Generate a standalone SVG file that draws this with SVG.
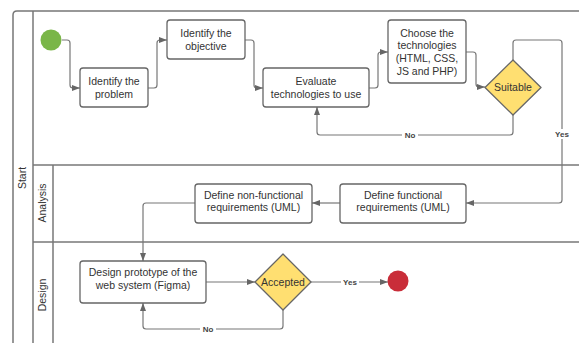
<svg xmlns="http://www.w3.org/2000/svg" width="579" height="343" viewBox="0 0 579 343">
<defs>
<marker id="arr" viewBox="0 0 8 6" refX="8" refY="3" markerWidth="8" markerHeight="6" markerUnits="userSpaceOnUse" orient="auto">
<path d="M0,0 L8,3 L0,6 z" fill="#666"/>
</marker>
<style>
.lane{fill:none;stroke:#777;stroke-width:1.5}
.box{fill:#fff;stroke:#666;stroke-width:1.3}
.dia{fill:#ffdf71;stroke:#666;stroke-width:1.3}
.t{font-family:"Liberation Sans",Arial,sans-serif;font-size:10.5px;fill:#333;text-anchor:middle}
.lbl{font-family:"Liberation Sans",Arial,sans-serif;font-size:8px;font-weight:bold;fill:#444;text-anchor:middle}
.c{fill:none;stroke:#777;stroke-width:1.2}
</style>
</defs>
<rect width="579" height="343" fill="#fff"/>
<g id="lanes">
<path class="lane" d="M13,343 V15 Q13,11 17,11 H579"/>
<path class="lane" d="M33,11 V343"/>
<path class="lane" d="M33,165 H579"/>
<path class="lane" d="M53,165 V343"/>
<path class="lane" d="M33,242 H579"/>
<text class="t" transform="translate(26,178) rotate(-90)">Start</text>
<text class="t" transform="translate(46,203) rotate(-90)">Analysis</text>
<text class="t" transform="translate(46,295) rotate(-90)">Design</text>
</g>
<g id="connectors">
<path class="c" marker-end="url(#arr)" d="M62,40 H67 Q70,40 70,43 V85 Q70,88 73,88 H80"/>
<path class="c" marker-end="url(#arr)" d="M148,88 H154 Q157,88 157,85 V43 Q157,40 160,40 H167"/>
<path class="c" marker-end="url(#arr)" d="M245,40 H251 Q254,40 254,43 V85 Q254,88 257,88 H263"/>
<path class="c" marker-end="url(#arr)" d="M369,88 H375 Q378,88 378,85 V55 Q378,52 381,52 H388"/>
<path class="c" marker-end="url(#arr)" d="M466,52 H473 Q476,52 476,55 V84 Q476,87 479,87 H485"/>
<path class="c" marker-end="url(#arr)" d="M513,115 V132 Q513,135 510,135 H320 Q317,135 317,132 V107"/>
<path class="c" marker-end="url(#arr)" d="M513,60 V43 Q513,40 516,40 H559 Q562,40 562,43 V200 Q562,203 559,203 H466"/>
<path class="c" marker-end="url(#arr)" d="M340,203 H312"/>
<path class="c" marker-end="url(#arr)" d="M195,203 H146 Q143,203 143,206 V261"/>
<path class="c" marker-end="url(#arr)" d="M206,282 H255"/>
<path class="c" marker-end="url(#arr)" d="M283,310 V326 Q283,329 280,329 H146 Q143,329 143,326 V303"/>
<path class="c" marker-end="url(#arr)" d="M311,282 H388"/>
<rect x="402" y="130" width="16" height="10" fill="#fff"/>
<text class="lbl" x="410" y="138">No</text>
<rect x="553" y="129" width="18" height="10" fill="#fff"/>
<text class="lbl" x="562" y="137">Yes</text>
<rect x="200" y="324" width="16" height="10" fill="#fff"/>
<text class="lbl" x="208" y="332">No</text>
<rect x="341" y="277" width="18" height="10" fill="#fff"/>
<text class="lbl" x="350" y="285">Yes</text>
</g>
<g id="start"><circle cx="51" cy="40" r="10.5" fill="#7ab648"/></g>
<g id="problem">
<rect class="box" x="80" y="68" width="68" height="39" rx="3"/>
<text class="t" x="114" y="85">Identify the</text>
<text class="t" x="114" y="97.5">problem</text>
</g>
<g id="objective">
<rect class="box" x="167" y="20" width="78" height="39" rx="3"/>
<text class="t" x="206" y="37">Identify the</text>
<text class="t" x="206" y="49.5">objective</text>
</g>
<g id="evaluate">
<rect class="box" x="263" y="68" width="106" height="39" rx="3"/>
<text class="t" x="316" y="85">Evaluate</text>
<text class="t" x="316" y="97.5">technologies to use</text>
</g>
<g id="choose">
<rect class="box" x="388" y="20" width="78" height="63" rx="3"/>
<text class="t" x="427" y="36.7">Choose the</text>
<text class="t" x="427" y="49.4">technologies</text>
<text class="t" x="427" y="62">(HTML, CSS,</text>
<text class="t" x="427" y="74.7">JS and PHP)</text>
</g>
<g id="suitable">
<path class="dia" d="M513,60 L541,87.5 L513,115 L485,87.5 Z" stroke-linejoin="round"/>
<text class="t" x="513" y="91.2">Suitable</text>
</g>
<g id="functional">
<rect class="box" x="340" y="184" width="126" height="39" rx="3"/>
<text class="t" x="403" y="198.7">Define functional</text>
<text class="t" x="403" y="211.4">requirements (UML)</text>
</g>
<g id="nonfunctional">
<rect class="box" x="195" y="184" width="117" height="39" rx="3"/>
<text class="t" x="253.5" y="198.7">Define non-functional</text>
<text class="t" x="253.5" y="211.4">requirements (UML)</text>
</g>
<g id="design">
<rect class="box" x="80" y="261" width="126" height="42" rx="3"/>
<text class="t" x="143" y="275.7">Design prototype of the</text>
<text class="t" x="143" y="289.4">web system (Figma)</text>
</g>
<g id="accepted">
<path class="dia" d="M283,254 L311,282 L283,310 L255,282 Z" stroke-linejoin="round"/>
<text class="t" x="283" y="285.7">Accepted</text>
</g>
<g id="end"><circle cx="398" cy="281" r="10.5" fill="#c92d39"/></g>
</svg>
